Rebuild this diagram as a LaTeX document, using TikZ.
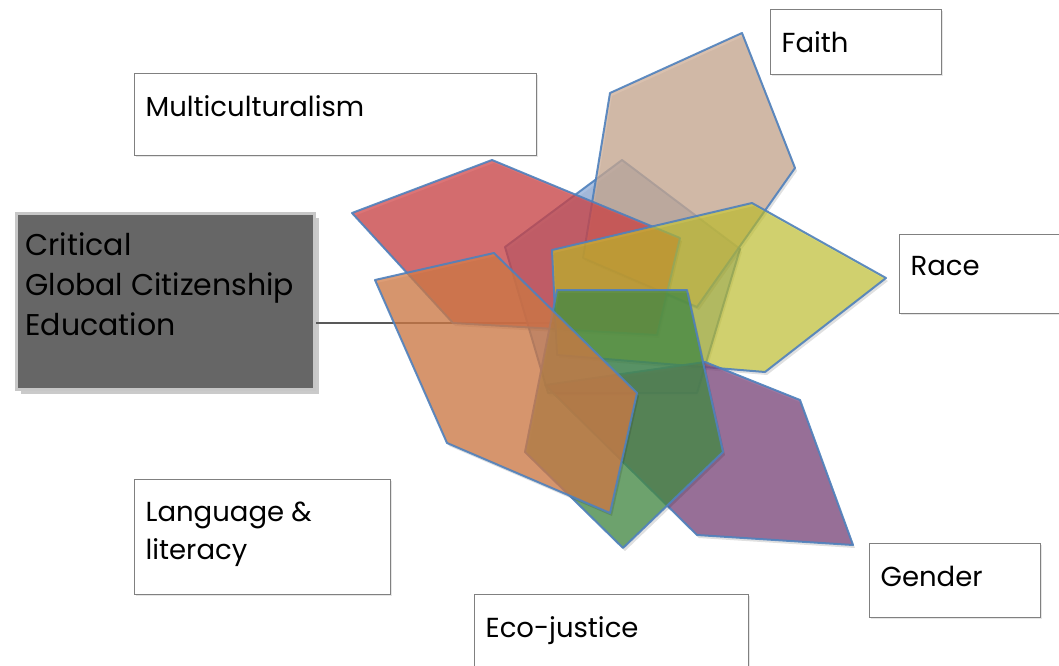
\documentclass[tikz,border=0pt]{standalone}
\usepackage{fontspec}
\setmainfont{Poppins}
\usetikzlibrary{shadows}
\definecolor{edgeblue}{RGB}{79,129,189}
\definecolor{pentred}{RGB}{208,70,72}
\definecolor{penttan}{RGB}{204,171,147}
\definecolor{pentyellow}{RGB}{200,200,40}
\definecolor{pentpurple}{RGB}{128,74,128}
\definecolor{pentgreen}{RGB}{71,142,71}
\definecolor{pentorange}{RGB}{211,124,71}
\definecolor{pentblue}{RGB}{142,171,215}
\definecolor{boxgray}{RGB}{128,128,128}
\definecolor{cgcegray}{RGB}{102,102,102}
\newcommand{\lbltext}[3]{\parbox[t][#2][t]{#1}{\raggedright #3}}
\tikzset{
  pent/.style={draw=edgeblue, line width=2pt, line join=round, fill opacity=0.75, draw opacity=0.9,
    preaction={draw=none, fill=black, fill opacity=0.12, transform canvas={shift={(2pt,-3pt)}}}},
  lblbox/.style={draw=boxgray, line width=1.3pt, fill=white, anchor=north west, inner xsep=11pt, inner ysep=22pt,
    font=\fontsize{27.5}{38}\selectfont, drop shadow={shadow xshift=1.5pt, shadow yshift=-1.5pt, opacity=0.2}},
  cgcebox/.style={draw=black!22, line width=3pt, fill=cgcegray, anchor=north west, inner xsep=9pt, inner ysep=19pt,
    font=\fontsize{30}{40}\selectfont, drop shadow={shadow xshift=4pt, shadow yshift=-4pt, fill=black!35, opacity=0.6}},
  connline/.style={draw=black!65, line width=1.2pt},
}

\begin{document}
\begin{tikzpicture}[x=1pt, y=-1pt]
\useasboundingbox (0,0) rectangle (1059,665);
% the central box and its connector
\node[cgcebox] (cgce) at (15,212) {\lbltext{280pt}{138pt}{Critical\\Global Citizenship\\Education}};
\coordinate (cgceend) at (557,323);
\draw[connline] (cgce.east |- cgceend) -- (cgceend);
% the pentagons, back to front
\draw[pent, fill=pentblue] (622,160) -- (740,249) -- (697,393) -- (548,393) -- (505,247) -- cycle;
\draw[pent, fill=penttan] (742,33) -- (795,168) -- (697,307) -- (583,258) -- (610,93) -- cycle;
\draw[pent, fill=pentred] (352,213) -- (492,160) -- (680,238) -- (657,335) -- (453,323) -- cycle;
\draw[pent, fill=pentyellow, fill opacity=0.62] (552,250) -- (752,203) -- (886,278) -- (765,372) -- (557,355) -- cycle;
\draw[pent, fill=pentpurple] (545,385) -- (705,362) -- (800,400) -- (853,545) -- (697,535) -- cycle;
\draw[pent, fill=pentgreen] (557,290) -- (687,290) -- (723,452) -- (623,548) -- (525,452) -- cycle;
\draw[pent, fill=pentorange] (375,280) -- (494,253) -- (637,393) -- (610,513) -- (447,443) -- cycle;
% the labels
\node[lblbox] (multi) at (134,73) {\lbltext{380pt}{38pt}{Multiculturalism}};
\node[lblbox] (faith) at (770,9) {\lbltext{149pt}{20pt}{Faith}};
\node[lblbox] (race) at (899,234) {\lbltext{150pt}{35pt}{Race}};
\node[lblbox] (gender) at (869,543) {\lbltext{149pt}{30pt}{Gender}};
\node[lblbox] (eco) at (474,594) {\lbltext{252pt}{36pt}{Eco-justice}};
\node[lblbox] (lang) at (134,479) {\lbltext{234pt}{71pt}{Language \&\\literacy}};
\end{tikzpicture}
\end{document}
